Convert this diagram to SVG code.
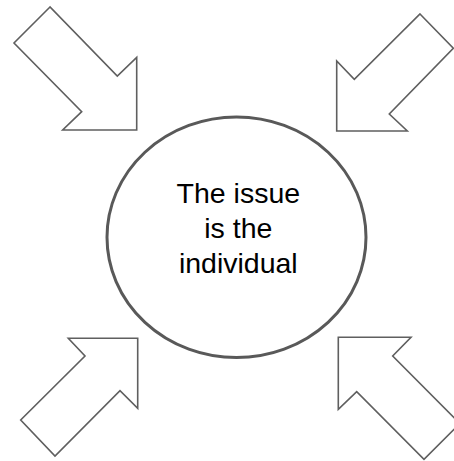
<svg xmlns="http://www.w3.org/2000/svg" width="454" height="461" viewBox="0 0 454 461">
<style>
.arrow{fill:#ffffff;stroke:#5f5f5f;stroke-width:1.6;stroke-linejoin:miter}
.hub{fill:#ffffff;stroke:#595959;stroke-width:3}
.lbl{font-family:"Liberation Sans",Arial,sans-serif;font-size:28.5px;fill:#000000;text-anchor:middle}
</style>
<rect width="454" height="461" fill="#ffffff"/>
<g id="connectors">
<polygon id="arrow-tl" class="arrow" points="50,7 14,43 81.7,111.7 62.7,130 136.7,130 136.7,57.3 117.3,76"/>
<polygon id="arrow-tr" class="arrow" points="420,14 453.3,48.3 389.3,114 407.3,131 336.7,131 336.7,61 354.3,79.3"/>
<polygon id="arrow-bl" class="arrow" points="68.3,338.3 137.7,338.3 137.7,408.3 120,390.7 55,456 20.7,420 85,356"/>
<polygon id="arrow-br" class="arrow" points="338.3,337.3 411,337.3 392.7,356 459.8,423.5 424,459.3 356.7,391.7 338.3,409.3"/>
</g>
<g id="node-center">
<ellipse class="hub" cx="236.5" cy="237.3" rx="129.5" ry="120.3"/>
<text class="lbl" x="238.3" y="202.7">The issue</text>
<text class="lbl" x="238.3" y="238.3">is the</text>
<text class="lbl" x="238.3" y="273.3">individual</text>
</g>
</svg>
